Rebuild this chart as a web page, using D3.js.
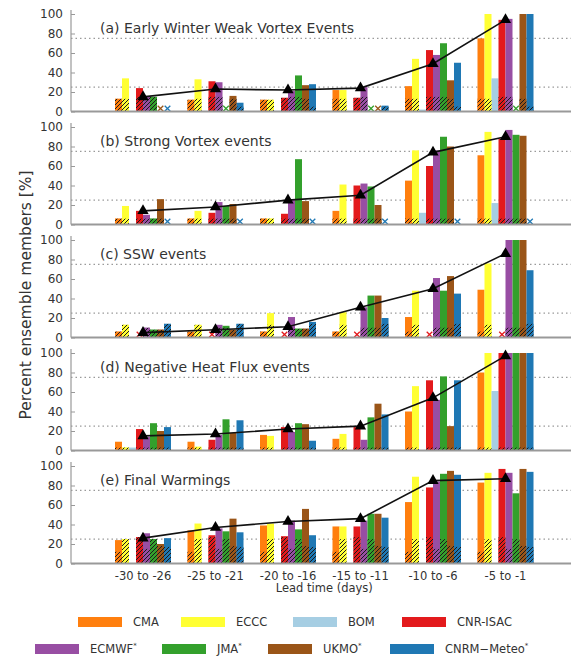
<!DOCTYPE html>
<html>
<head>
<meta charset="utf-8">
<script src="https://cdn.jsdelivr.net/npm/d3@7"></script>
<style>
  body { margin: 0; background: #fff; }
  svg { display: block; }
  text { font-family: "DejaVu Sans", sans-serif; fill: #333; }
</style>
</head>
<body>
<svg id="chart" width="571" height="657"></svg>
<script>
// ---- data -------------------------------------------------------------
const leadTimes = ["-30 to -26", "-25 to -21", "-20 to -16", "-15 to -11", "-10 to -6", "-5 to -1"];
const models = ["CMA", "ECCC", "BOM", "CNR-ISAC", "ECMWF", "JMA", "UKMO", "CNRM\u2212Meteo"];
const starredModels = ["ECMWF", "JMA", "UKMO", "CNRM\u2212Meteo"];
const modelColors = ["#ff7f0e", "#ffff33", "#a6cee3", "#e31a1c", "#984ea3", "#33a02c", "#9a5518", "#1f78b4"];
const yTicks = [0, 20, 40, 60, 80, 100];
const refLevels = [25, 75];

// one row per model (order of `models`), one column per lead time; null = no forecast
const weakVortexValues = [
  [13, 12, 12, 22, 26, 75],
  [34, 33, 12, 22, 54, 100],
  [0, 0, 0, 0, 2, 34],
  [24, 31, 14, 14, 63, 94],
  [15, 30, 21, 25, 58, 95],
  [15, null, 37, null, 70, null],
  [null, 16, 27, null, 32, 100],
  [null, 9, 28, 6, 50, 100]
];
const weakVortexHatch = [13, 13, 0, 15, 15, 15, 13, 5];
const weakVortexMean = [15, 23, 22, 24, 49, 94];

const strongVortexValues = [
  [6, 6, 6, 14, 45, 71],
  [19, 14, 6, 41, 76, 95],
  [0, 0, 0, 0, 12, 22],
  [14, 12, 11, 40, 60, 88],
  [10, 23, 25, 42, 76, 97],
  [6, 19, 67, 39, 90, 92],
  [26, 21, 24, 20, 80, 91],
  [null, null, null, null, null, null]
];
const strongVortexHatch = [6, 6, 0, 6, 6, 6, 6, 0];
const strongVortexMean = [14, 18, 25, 30, 74, 90];

const sswValues = [
  [6, 6, 6, 6, 21, 49],
  [13, 13, 25, 26, 48, 76],
  [0, 0, 0, 0, 0, 0],
  [null, null, null, null, null, null],
  [10, 13, 21, 31, 61, 100],
  [8, 12, 9, 43, 48, 100],
  [8, 8, 9, 43, 63, 100],
  [14, 14, 16, 20, 45, 69]
];
const sswHatch = [6, 13, 0, 0, 10, 10, 10, 14];
const sswMean = [5, 8, 11, 31, 50, 86];

const heatFluxValues = [
  [9, 9, 16, 12, 40, 80],
  [3, 4, 15, 17, 66, 100],
  [3, 0, 0, 0, 0, 61],
  [22, 11, 24, 24, 72, 100],
  [14, 16, 19, 11, 52, 100],
  [28, 32, 28, 34, 76, 100],
  [20, 18, 27, 48, 25, 100],
  [24, 31, 10, 37, 72, 100]
];
const heatFluxHatch = [3, 3, 0, 3, 3, 3, 3, 3];
const heatFluxMean = [15, 17, 22, 25, 54, 97];

const finalWarmingValues = [
  [24, 34, 39, 38, 63, 83],
  [25, 41, 41, 38, 89, 93],
  [0, 0, 0, 0, 0, 0],
  [27, 29, 28, 38, 78, 97],
  [31, 36, 44, 44, 84, 93],
  [25, 33, 35, 51, 92, 72],
  [20, 46, 56, 51, 95, 97],
  [26, 32, 29, 47, 91, 94]
];
const finalWarmingHatch = [12, 25, 0, 27, 15, 25, 18, 17];
const finalWarmingMean = [26, 37, 43, 46, 85, 87];

const panelTitles = [
  "(a) Early Winter Weak Vortex Events",
  "(b) Strong Vortex events",
  "(c) SSW events",
  "(d) Negative Heat Flux events",
  "(e) Final Warmings"
];

const panels = [
  { title: panelTitles[0], values: weakVortexValues, hatch: weakVortexHatch, mean: weakVortexMean },
  { title: panelTitles[1], values: strongVortexValues, hatch: strongVortexHatch, mean: strongVortexMean },
  { title: panelTitles[2], values: sswValues, hatch: sswHatch, mean: sswMean },
  { title: panelTitles[3], values: heatFluxValues, hatch: heatFluxHatch, mean: heatFluxMean },
  { title: panelTitles[4], values: finalWarmingValues, hatch: finalWarmingHatch, mean: finalWarmingMean }
];

// ---- layout -----------------------------------------------------------
const svg = d3.select("#chart");
const W = 571;
const axisLeft = 71;
const panelTop0 = 14, panelStep = 113, panelH = 97.5;

const x = d3.scaleBand()
  .domain(leadTimes)
  .range([106.75, 541.75])
  .paddingInner(0.2276)
  .paddingOuter(0.1138);
const xm = d3.scaleBand().domain(models).range([0, x.bandwidth()]).padding(0);
const color = d3.scaleOrdinal().domain(models).range(modelColors);

// hatch patterns: model colour with black diagonal lines
const defs = svg.append("defs");
models.forEach((m, i) => {
  const p = defs.append("pattern")
    .attr("id", "hatch" + i)
    .attr("patternUnits", "userSpaceOnUse")
    .attr("width", 4).attr("height", 4);
  p.append("rect").attr("width", 4).attr("height", 4).attr("fill", color(m));
  p.append("path")
    .attr("d", "M-1,1 l2,-2 M0,4 l4,-4 M3,5 l2,-2")
    .attr("stroke", "#1a1a1a").attr("stroke-width", 1);
});

panels.forEach((panel, pi) => {
  const top = panelTop0 + pi * panelStep;
  const y = d3.scaleLinear().domain([0, 100]).range([top + panelH, top]);
  const g = svg.append("g");

  // reference levels
  g.selectAll("line.ref").data(refLevels).join("line")
    .attr("x1", axisLeft).attr("x2", W)
    .attr("y1", d => y(d)).attr("y2", d => y(d))
    .attr("stroke", "#9a9a9a").attr("stroke-width", 1.2)
    .attr("stroke-dasharray", "1.5,3");

  // bars
  const cells = [];
  panel.values.forEach((row, mi) => {
    row.forEach((v, li) => cells.push({ model: models[mi], mi, lead: leadTimes[li], v, h: panel.hatch[mi] }));
  });
  const drawn = cells.filter(d => d.v !== null && d.v > 0);
  g.selectAll("rect.bar").data(drawn).join("rect")
    .attr("x", d => x(d.lead) + xm(d.model))
    .attr("width", xm.bandwidth())
    .attr("y", d => y(d.v))
    .attr("height", d => y(0) - y(d.v))
    .attr("fill", d => color(d.model));
  g.selectAll("rect.hatch").data(drawn.filter(d => d.h > 0)).join("rect")
    .attr("x", d => x(d.lead) + xm(d.model))
    .attr("width", xm.bandwidth())
    .attr("y", d => y(Math.min(d.v, d.h)))
    .attr("height", d => y(0) - y(Math.min(d.v, d.h)))
    .attr("fill", d => `url(#hatch${d.mi})`);

  // crosses where a model has no forecast
  const missing = cells.filter(d => d.v === null);
  g.selectAll("path.miss").data(missing).join("path")
    .attr("transform", d => `translate(${x(d.lead) + xm(d.model) + xm.bandwidth() / 2},${y(0) - 3})`)
    .attr("d", "M-2.8,-2.8L2.8,2.8M-2.8,2.8L2.8,-2.8")
    .attr("stroke", d => color(d.model)).attr("stroke-width", 1.3)
    .attr("fill", "none");

  // axes
  g.append("line")
    .attr("x1", axisLeft).attr("x2", W)
    .attr("y1", y(0)).attr("y2", y(0))
    .attr("stroke", "#999").attr("stroke-width", 2);
  g.append("line")
    .attr("x1", axisLeft).attr("x2", axisLeft)
    .attr("y1", y(0)).attr("y2", y(104))
    .attr("stroke", "#999").attr("stroke-width", 1.2);

  const yAxis = d3.axisLeft(y).tickValues(yTicks).tickSize(-4).tickPadding(8);
  const ya = g.append("g").attr("transform", `translate(${axisLeft},0)`).call(yAxis);
  ya.select(".domain").remove();
  ya.selectAll(".tick line").attr("stroke", "#999");
  ya.selectAll(".tick text")
    .attr("font-size", 12).attr("font-family", "DejaVu Sans, sans-serif").attr("fill", "#333");

  // ensemble mean line with triangles
  const meanPts = panel.mean.map((v, li) => [x(leadTimes[li]) + x.bandwidth() / 2, y(v)]);
  g.append("path")
    .attr("d", d3.line()(meanPts))
    .attr("fill", "none").attr("stroke", "#111").attr("stroke-width", 1.6);
  g.selectAll("path.tri").data(meanPts).join("path")
    .attr("transform", d => `translate(${d[0]},${d[1]})`)
    .attr("d", d3.symbol().type(d3.symbolTriangle).size(55))
    .attr("fill", "#000");

  // title
  g.append("text")
    .attr("x", 100).attr("y", top + 19)
    .attr("font-size", 14)
    .text(panel.title);

  // x tick labels on the bottom panel
  if (pi === panels.length - 1) {
    const xa = g.append("g").attr("transform", `translate(0,${y(0)})`)
      .call(d3.axisBottom(x).tickSize(0).tickPadding(8));
    xa.select(".domain").remove();
    xa.selectAll(".tick text")
      .attr("font-size", 11.5).attr("font-family", "DejaVu Sans, sans-serif").attr("fill", "#333");
    svg.append("text")
      .attr("x", x(leadTimes[0]) + (x(leadTimes[5]) + x.bandwidth() - x(leadTimes[0])) / 2)
      .attr("y", 592)
      .attr("text-anchor", "middle")
      .attr("font-size", 11.5)
      .text("Lead time (days)");
  }
});

// y-axis title
svg.append("text")
  .attr("transform", "translate(31,295) rotate(-90)")
  .attr("text-anchor", "middle")
  .attr("font-size", 15.5)
  .text("Percent ensemble members [%]");

// legend: two rows of four entries
const legendSwatchX = [78, 181, 293, 402, 35, 162, 268, 390];
const legendRowY = [622, 649];
const legend = svg.append("g");
models.forEach((m, i) => {
  const row = i < 4 ? 0 : 1;
  const cy = legendRowY[row];
  const lx = legendSwatchX[i];
  legend.append("rect")
    .attr("x", lx).attr("y", cy - 5)
    .attr("width", 44).attr("height", 10)
    .attr("fill", color(m));
  const t = legend.append("text")
    .attr("x", lx + 55).attr("y", cy + 4)
    .attr("font-size", 11.5)
    .text(m);
  if (starredModels.includes(m)) {
    t.append("tspan").attr("dy", -5).attr("font-size", 7).text("*");
  }
});
</script>
</body>
</html>
